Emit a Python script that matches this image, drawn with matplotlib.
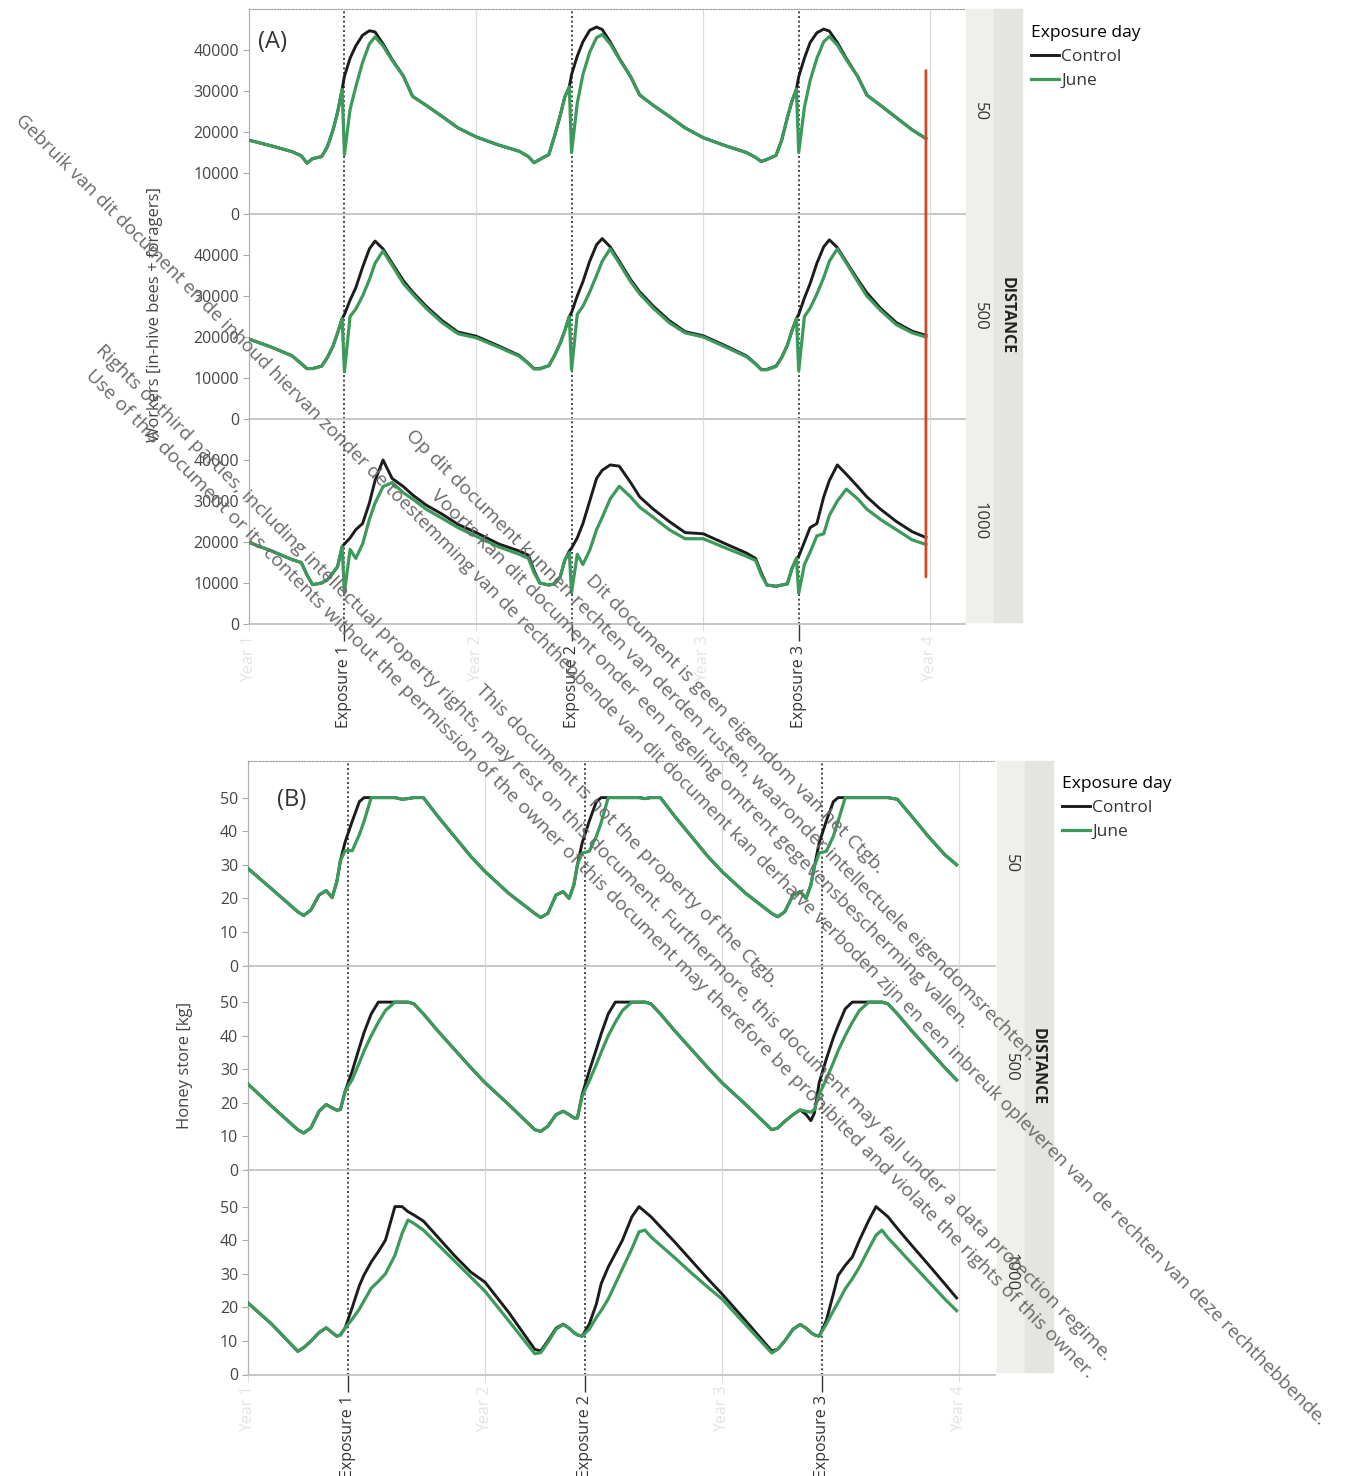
import matplotlib
matplotlib.use("Agg")
import matplotlib.pyplot as plt
from matplotlib.patches import ConnectionPatch, Rectangle

plt.rcParams['font.family'] = ['Open Sans', 'DejaVu Sans']

W, H = 1359, 1476

# ---------------- data ----------------
distances = ['50', '500', '1000']
exposure_days = [1.42, 2.42, 3.42]
exposure_labels = ['Exposure 1', 'Exposure 2', 'Exposure 3']
year_ticks = [1, 2, 3, 4]
year_labels = ['Year 1', 'Year 2', 'Year 3', 'Year 4']
series_labels = ['Control', 'June']

# time axis (years) for the workers panel
t_workers = [
    1.00, 1.10, 1.19, 1.23, 1.255, 1.28, 1.32, 1.345, 1.37, 1.39, 1.41, 1.42, 1.445, 1.47, 1.50, 1.53, 1.555, 1.59, 1.63, 1.68, 1.72, 1.78, 1.85, 1.92,
    2.00, 2.10, 2.19, 2.23, 2.255, 2.28, 2.32, 2.345, 2.37, 2.39, 2.41, 2.42, 2.445, 2.47, 2.50, 2.53, 2.555, 2.59, 2.63, 2.68, 2.72, 2.78, 2.85, 2.92,
    3.00, 3.10, 3.19, 3.23, 3.255, 3.28, 3.32, 3.345, 3.37, 3.39, 3.41, 3.42, 3.445, 3.47, 3.50, 3.53, 3.555, 3.59, 3.63, 3.68, 3.72, 3.78, 3.85, 3.92,
    3.98]

w50_ctrl = [
    18000, 16600, 15200, 14200, 12400, 13500, 14000, 16400, 20500, 24800, 30400, 33600, 38000, 41000, 43600, 44700, 44400, 41500, 37700, 33600, 28700, 26500, 23800, 21000,
    18800, 16800, 15300, 14000, 12500, 13300, 14500, 19000, 24000, 28500, 31000, 34000, 38500, 42000, 44800, 45600, 45000, 42000, 38000, 33500, 29000, 26500, 23800, 21000,
    18600, 16600, 15000, 13800, 12800, 13300, 14300, 18000, 23500, 27500, 30500, 33500, 38000, 41800, 44200, 45100, 44600, 41800, 37900, 33500, 29000, 26500, 23500, 20500,
    18400]
w50_june = [
    18000, 16600, 15200, 14200, 12400, 13500, 14000, 16400, 20500, 24800, 30400, 14500, 25500, 31000, 37000, 41500, 43200, 41000, 37500, 33600, 28700, 26500, 23800, 21000,
    18800, 16800, 15300, 14000, 12500, 13300, 14500, 19000, 24000, 28500, 31000, 15000, 27000, 34000, 39500, 43000, 43800, 41500, 37800, 33500, 29000, 26500, 23800, 21000,
    18600, 16600, 15000, 13800, 12800, 13300, 14300, 18000, 23500, 27500, 30500, 15000, 26000, 32500, 38000, 42000, 43300, 41200, 37600, 33500, 29000, 26500, 23500, 20500,
    18400]

w500_ctrl = [
    19500, 17500, 15400, 13500, 12300, 12300, 12900, 15000, 17800, 21000, 24500, 25500, 29000, 32000, 37000, 41500, 43400, 41500, 38000, 33700, 31000, 27500, 24000, 21200,
    20200, 17800, 15500, 13600, 12300, 12300, 13000, 15500, 18500, 21500, 25000, 26000, 30000, 33500, 38500, 42500, 44000, 42000, 38500, 34000, 31000, 27500, 24000, 21300,
    20300, 17800, 15400, 13500, 12100, 12100, 12900, 15000, 18000, 21500, 24500, 25500, 29500, 33000, 38000, 42000, 43700, 41800, 38300, 34000, 30800, 27000, 23500, 21400,
    20400]
w500_june = [
    19500, 17500, 15400, 13500, 12300, 12300, 12900, 15000, 17800, 21000, 24500, 11500, 25000, 26800, 30000, 34000, 38000, 41000, 37500, 33000, 30500, 27000, 23500, 20800,
    19800, 17500, 15300, 13500, 12200, 12200, 13000, 15500, 18500, 21500, 25000, 12000, 25500, 27500, 31000, 35000, 38500, 41500, 38000, 33500, 30500, 27000, 23500, 21000,
    20000, 17500, 15200, 13400, 12000, 12000, 12800, 15000, 18000, 21500, 24500, 11700, 25000, 27000, 30500, 34500, 38500, 41500, 38000, 33500, 30000, 26500, 23000, 21000,
    20000]

w1000_ctrl = [
    19900, 17800, 15700, 15000, 12000, 9600, 10000, 10800, 12500, 14000, 18900, 19500, 21000, 23000, 24500, 29500, 35000, 40000, 35500, 33500, 31500, 29000, 26800, 24300,
    22300, 19500, 17800, 16800, 13000, 10000, 9500, 9800, 11500, 15500, 17800, 18500, 21000, 24500, 30000, 35500, 37500, 38800, 38500, 34500, 31000, 28000, 25000, 22300,
    22000, 19500, 17300, 16000, 12500, 9500, 9200, 9500, 9800, 13500, 16000, 16500, 20000, 23500, 24500, 31000, 35000, 38800, 36500, 33500, 31000, 28000, 25000, 22500,
    21100]
w1000_june = [
    19900, 17800, 15700, 15000, 12000, 9600, 10000, 10800, 12500, 14000, 18900, 7600, 18200, 16000, 19500, 25500, 29500, 33500, 34500, 32000, 30500, 28000, 25800, 23500,
    21400, 18800, 17000, 16000, 12500, 10000, 9500, 9800, 11500, 15500, 17400, 7600, 17000, 14500, 18000, 23000, 26000, 30500, 33600, 31000, 28500, 26000, 23000, 20800,
    20800, 18500, 16500, 15500, 12000, 9500, 9200, 9500, 9800, 13500, 16000, 7500, 14500, 17500, 21500, 22000, 26500, 30000, 32900, 30500, 28000, 25500, 23000, 20500,
    19400]

# time axis (years) for the honey panel
t_honey = [
    1.00, 1.10, 1.21, 1.235, 1.265, 1.30, 1.33, 1.355, 1.375, 1.39, 1.41, 1.44, 1.47, 1.49, 1.52, 1.55, 1.58, 1.62, 1.65, 1.675, 1.70, 1.74, 1.80, 1.87, 1.94,
    2.00, 2.10, 2.21, 2.235, 2.265, 2.30, 2.33, 2.355, 2.375, 2.39, 2.41, 2.44, 2.47, 2.49, 2.52, 2.55, 2.58, 2.62, 2.65, 2.675, 2.70, 2.74, 2.80, 2.87, 2.94,
    3.00, 3.10, 3.21, 3.235, 3.265, 3.30, 3.33, 3.355, 3.375, 3.39, 3.41, 3.44, 3.47, 3.49, 3.52, 3.55, 3.58, 3.62, 3.65, 3.675, 3.70, 3.74, 3.80, 3.87, 3.94,
    3.99]

h50_ctrl = [
    28.9, 22.8, 16.0, 14.9, 16.5, 21.0, 22.3, 20.2, 25.0, 31.3, 36.8, 43.0, 48.8, 50.0, 50.0, 50.0, 50.0, 50.0, 49.5, 49.7, 50.0, 50.0, 44.5, 38.5, 32.5,
    28.0, 21.5, 15.5, 14.3, 15.5, 21.0, 22.0, 20.0, 24.0, 30.0, 36.5, 43.0, 48.8, 50.0, 50.0, 50.0, 50.0, 50.0, 50.0, 49.7, 50.0, 50.0, 44.5, 38.5, 32.5,
    28.0, 21.5, 15.5, 14.5, 16.0, 21.0, 22.0, 20.0, 24.0, 29.5, 36.5, 43.0, 48.8, 50.0, 50.0, 50.0, 50.0, 50.0, 50.0, 50.0, 50.0, 49.5, 44.5, 38.5, 33.0,
    30.0]
h50_june = [
    28.9, 22.8, 16.0, 14.9, 16.5, 21.0, 22.3, 20.2, 25.0, 31.3, 34.2, 34.2, 39.0, 43.0, 50.0, 50.0, 50.0, 50.0, 49.5, 49.7, 50.0, 50.0, 44.5, 38.5, 32.5,
    28.0, 21.5, 15.5, 14.3, 15.5, 21.0, 22.0, 20.0, 24.0, 30.0, 33.5, 34.0, 38.5, 42.5, 50.0, 50.0, 50.0, 50.0, 50.0, 49.7, 50.0, 50.0, 44.5, 38.5, 32.5,
    28.0, 21.5, 15.5, 14.5, 16.0, 21.0, 22.0, 20.0, 24.0, 29.5, 33.5, 34.0, 38.5, 43.0, 50.0, 50.0, 50.0, 50.0, 50.0, 50.0, 50.0, 49.5, 44.5, 38.5, 33.0,
    30.0]

h500_ctrl = [
    25.6, 19.0, 12.0, 11.0, 12.5, 17.5, 19.5, 18.5, 17.8, 18.0, 23.5, 29.5, 36.5, 41.0, 46.5, 50.0, 50.0, 50.0, 50.0, 50.0, 49.5, 46.5, 41.5, 36.0, 30.5,
    26.0, 19.5, 12.0, 11.5, 13.0, 16.5, 17.5, 16.5, 15.5, 15.5, 22.5, 29.5, 36.0, 40.5, 46.5, 50.0, 50.0, 50.0, 50.0, 50.0, 49.5, 46.5, 41.5, 36.0, 30.5,
    26.0, 19.5, 12.0, 12.5, 14.5, 16.5, 17.9, 16.5, 14.7, 17.0, 26.0, 33.0, 39.4, 43.0, 48.0, 50.0, 50.0, 50.0, 50.0, 50.0, 49.5, 46.5, 41.5, 36.0, 30.5,
    26.8]
h500_june = [
    25.6, 19.0, 12.0, 11.0, 12.5, 17.5, 19.5, 18.5, 17.8, 18.0, 23.5, 27.0, 32.0, 35.5, 40.0, 44.0, 47.5, 50.0, 50.0, 50.0, 49.5, 46.5, 41.5, 36.0, 30.5,
    26.0, 19.5, 12.0, 11.5, 13.0, 16.5, 17.5, 16.5, 15.5, 15.5, 22.0, 26.5, 31.5, 35.0, 40.0, 44.0, 47.5, 50.0, 50.0, 50.0, 49.5, 46.5, 41.5, 36.0, 30.5,
    26.0, 19.5, 12.0, 12.5, 14.5, 16.5, 17.9, 17.5, 17.2, 18.0, 22.5, 27.0, 32.0, 35.5, 40.0, 44.0, 47.5, 50.0, 50.0, 50.0, 49.5, 46.5, 41.5, 36.0, 30.5,
    26.8]

h1000_ctrl = [
    21.3, 15.0, 6.9, 8.0, 9.9, 12.5, 13.9, 12.5, 11.4, 11.8, 13.9, 20.0, 26.5, 29.7, 33.5, 36.6, 40.0, 50.0, 50.0, 48.5, 47.5, 45.7, 41.0, 35.5, 30.5,
    27.5, 18.5, 7.5, 7.0, 10.0, 13.8, 15.0, 13.8, 12.5, 11.8, 11.4, 15.0, 21.0, 27.0, 32.0, 36.0, 40.0, 47.0, 50.0, 48.5, 47.0, 44.0, 39.5, 34.0, 28.5,
    24.0, 16.0, 7.0, 7.5, 10.0, 13.5, 14.9, 13.8, 12.5, 11.8, 11.4, 16.0, 24.0, 29.5, 32.5, 35.0, 40.0, 46.0, 50.0, 48.5, 47.0, 43.5, 38.5, 32.8, 27.0,
    22.8]
h1000_june = [
    21.3, 15.0, 6.9, 8.0, 9.9, 12.5, 13.9, 12.5, 11.4, 11.8, 13.9, 16.5, 19.5, 22.0, 25.7, 27.7, 30.0, 35.5, 42.0, 46.0, 45.0, 43.0, 38.8, 33.9, 29.0,
    24.8, 16.0, 6.2, 6.5, 9.5, 13.5, 14.9, 13.8, 12.5, 11.8, 11.4, 13.5, 17.0, 19.0, 22.5, 27.0, 31.5, 37.5, 42.5, 43.0, 41.0, 38.5, 34.8, 30.3, 26.0,
    22.5, 14.8, 6.4, 7.5, 10.0, 13.5, 14.9, 13.8, 12.5, 11.8, 11.4, 15.0, 19.0, 21.5, 25.5, 28.5, 32.0, 37.5, 41.5, 43.0, 40.7, 37.7, 33.1, 27.8, 22.5,
    19.0]

workers_ticks = [0, 10000, 20000, 30000, 40000]
honey_ticks = [0, 10, 20, 30, 40, 50]

# watermark lines: text, start x, start y (pixels), font size
watermark = [
    ("Gebruik van dit document en de inhoud hiervan zonder de toestemming van de rechthebbende van dit document "
     "kan derhalve verboden zijn en een inbreuk opleveren van de rechten van deze rechthebbende.", 18, 118, 13.7),
    ("Op dit document kunnen rechten van derden rusten, waaronder intellectuele eigendomsrechten.", 408, 433, 14),
    ("Voorts kan dit document onder een regeling omtrent gegevensbescherming vallen.", 433, 493, 14),
    ("Dit document is geen eigendom van het Ctgb.", 588, 578, 14),
    ("Rights of third parties, including intellectual property rights, may rest on this document. "
     "Furthermore, this document may fall under a data protection regime.", 98, 348, 14),
    ("Use of this document or its contents without the permission of the owner of this document "
     "may therefore be prohibited and violate the rights of this owner.", 88, 373, 14),
    ("This document is not the property of the Ctgb.", 478, 688, 14),
]

CTRL_C = '#1c1c1c'
JUNE_C = '#3c9a5a'
TXT_C = '#444444'


def fx(px):
    return px / W


def fy(py):
    return 1 - py / H


def draw_panel(fig, left, right, top, row_h, t, ctrl_rows, june_rows, ymax, yticks):
    axes = []
    for i in range(3):
        y_top = top + i * row_h
        ax = fig.add_axes([fx(left), fy(y_top + row_h), (right - left) / W, row_h / H])
        ax.set_xlim(1.0, 4.152)
        ax.set_ylim(0, ymax)
        ax.patch.set_alpha(0)
        for yr in year_ticks[1:]:
            ax.axvline(yr, color='#dcdcdc', lw=0.9, zorder=0)
        for e in exposure_days:
            ax.axvline(e, color='#2a2a2a', lw=1.2, ls=(0, (1.2, 1.6)), zorder=1)
        l1, = ax.plot(t, ctrl_rows[i], color=CTRL_C, lw=2.1, zorder=3,
                      solid_joinstyle='round', label=series_labels[0])
        l2, = ax.plot(t, june_rows[i], color=JUNE_C, lw=2.3, zorder=4,
                      solid_joinstyle='round', label=series_labels[1])
        ax.spines['right'].set_visible(False)
        if i == 0:
            ax.spines['top'].set_color('#9a9a9a')
            ax.spines['top'].set_linestyle((0, (1, 1.5)))
            ax.spines['top'].set_linewidth(0.8)
        else:
            ax.spines['top'].set_visible(False)
        ax.spines['left'].set_color('#b0b0b0')
        ax.spines['left'].set_linewidth(0.9)
        ax.spines['bottom'].set_color('#c2c2c2')
        ax.spines['bottom'].set_linewidth(1.3)
        ax.set_yticks(yticks)
        ax.set_yticklabels([str(v) for v in yticks])
        ax.tick_params(axis='y', length=4, color='#aaaaaa', labelsize=11.5,
                       labelcolor=TXT_C, pad=3)
        if i < 2:
            ax.set_xticks([])
        else:
            ax.set_xticks(exposure_days)
            ax.set_xticklabels(exposure_labels, rotation=90)
            ax.set_xticks(year_ticks, minor=True)
            ax.set_xticklabels(year_labels, minor=True, rotation=90)
            ax.tick_params(axis='x', which='major', length=12, color='#333333',
                           width=1.0, labelsize=11.5, labelcolor='#333333', pad=3)
            ax.tick_params(axis='x', which='minor', length=5, color='#d8d8d8',
                           labelsize=11.5, labelcolor='#e4e4e4', pad=3)
        axes.append(ax)
    return axes, (l1, l2)


def draw_strip(fig, x0, top, bottom, row_h):
    fig.add_artist(Rectangle((fx(x0), fy(bottom)), 28 / W, (bottom - top) / H,
                             transform=fig.transFigure, color='#efefec', zorder=0))
    fig.add_artist(Rectangle((fx(x0 + 28), fy(bottom)), 28 / W, (bottom - top) / H,
                             transform=fig.transFigure, color='#e4e4e0', zorder=0))
    for i, d in enumerate(distances):
        fig.text(fx(x0 + 14), fy(top + (i + 0.5) * row_h), d, rotation=270,
                 ha='center', va='center', fontsize=12, color='#333333')
    fig.text(fx(x0 + 41), fy((top + bottom) / 2), 'DISTANCE', rotation=270,
             ha='center', va='center', fontsize=11.5, fontweight='bold', color='#222222')


def add_legend(fig, handles, x_px, y_px):
    fig.legend(handles, series_labels, loc='upper left', bbox_to_anchor=(fx(x_px), fy(y_px)),
               frameon=False, title='Exposure day', alignment='left', fontsize=12.5,
               title_fontsize=12.5, handlelength=1.6, handletextpad=0.15, labelspacing=0.45,
               borderaxespad=0, labelcolor='#333333')


fig = plt.figure(figsize=(W / 100, H / 100), dpi=100)
fig.patch.set_facecolor('white')

# ---- panel A: workers ----
axA, handles = draw_panel(fig, 249, 965, 9, 205, t_workers,
                          [w50_ctrl, w500_ctrl, w1000_ctrl],
                          [w50_june, w500_june, w1000_june], 50000, workers_ticks)
draw_strip(fig, 966, 9, 622, 205)
fig.text(fx(155), fy(315), 'Workers [in-hive bees + foragers]', rotation=90,
         ha='center', va='center', fontsize=12, color=TXT_C)
fig.text(fx(258), fy(42), '(A)', ha='left', va='center', fontsize=17, color='#333333')
add_legend(fig, handles, 1024, 18)

# hand-drawn red marker over the last time point
con = ConnectionPatch(xyA=(t_workers[-1], 35000), coordsA=axA[0].transData,
                      xyB=(t_workers[-1], 11500), coordsB=axA[2].transData,
                      color='#d2462a', lw=2.0, zorder=10)
fig.add_artist(con)

# ---- panel B: honey ----
axB, handlesB = draw_panel(fig, 248, 995, 761, 204.5, t_honey,
                           [h50_ctrl, h500_ctrl, h1000_ctrl],
                           [h50_june, h500_june, h1000_june], 60.9, honey_ticks)
draw_strip(fig, 997, 761, 1372, 204.5)
fig.text(fx(185), fy(1065), 'Honey store [kg]', rotation=90,
         ha='center', va='center', fontsize=12, color=TXT_C)
fig.text(fx(277), fy(800), '(B)', ha='left', va='center', fontsize=17, color='#333333')
add_legend(fig, handlesB, 1055, 769)

# ---- diagonal watermark ----
for txt, px, py, fs in watermark:
    fig.text(fx(px), fy(py), txt, rotation=-45, rotation_mode='anchor',
             ha='left', va='center', fontsize=fs, color='#6a6a6a', zorder=20)

fig.savefig('out.png', dpi=100)
